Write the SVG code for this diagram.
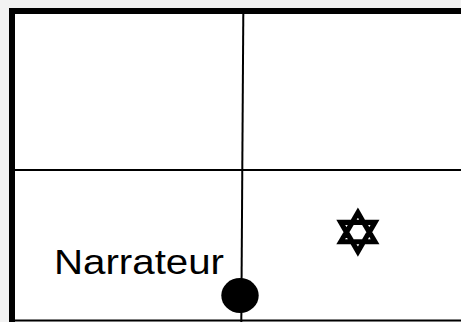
<svg xmlns="http://www.w3.org/2000/svg" width="461" height="322" viewBox="0 0 461 322">
<style>
.frame{fill:none;stroke:#000;stroke-width:6}
.line{stroke:#000;stroke-width:2;fill:none}
.lbl{font-family:"Century Gothic","URW Gothic","Liberation Sans",sans-serif;font-size:35px;fill:#000}
.sym{font-family:"DejaVu Sans",sans-serif;font-size:60px;fill:#000;stroke:#000;stroke-width:2.2}
</style>
<rect x="0" y="0" width="461" height="322" fill="#f2f2f2"/>
<rect x="12" y="11" width="460" height="309" fill="#fff"/>
<g id="connectors">
<path class="frame" d="M12 322 V11 H461"/>
<line class="line" x1="10" y1="170" x2="461" y2="170"/>
<line class="line" x1="243.3" y1="14" x2="241.3" y2="322"/>
<line class="line" x1="12" y1="320.5" x2="461" y2="320.5"/>
</g>
<g id="narrateur">
<text class="lbl" x="54" y="274" textLength="170" lengthAdjust="spacingAndGlyphs">Narrateur</text>
<ellipse cx="240" cy="295.5" rx="18.7" ry="17.5" fill="#000"/>
</g>
<g id="star">
<text class="sym" x="358" y="254" text-anchor="middle">✡</text>
</g>
</svg>
